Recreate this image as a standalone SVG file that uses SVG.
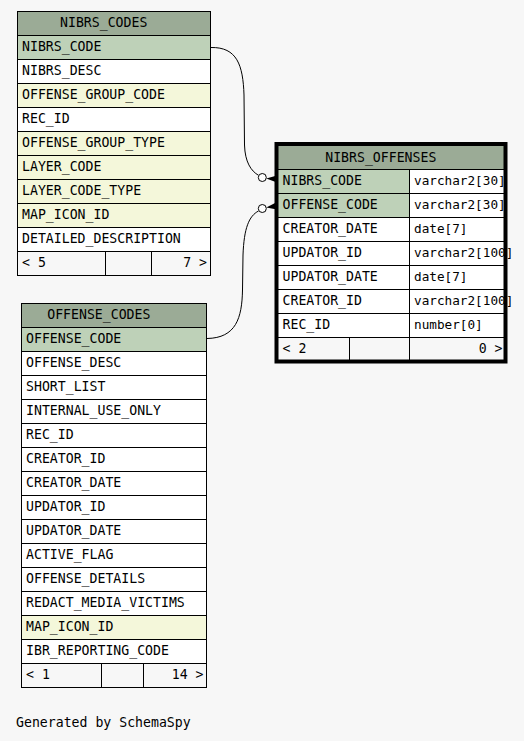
<svg xmlns="http://www.w3.org/2000/svg" width="524" height="741" viewBox="0 0 524 741">
<style>
text{font-family:"DejaVu Sans Mono","Liberation Mono",monospace;font-size:13.2px;fill:#000}
text.t{font-size:12.7px}
.c{stroke:#000;stroke-width:1}
.h{fill:#9bab96}
.k{fill:#bed1b8}
.w{fill:#ffffff}
.y{fill:#f4f7da}
.f{fill:#f7f7f7}
.m{text-anchor:middle}
.e{text-anchor:end}
.edge{fill:none;stroke:#000;stroke-width:1}
</style>
<rect x="0" y="0" width="524" height="741" fill="#f7f7f7"/>

<g id="connectors">
<path class="edge" d="M211,47.5 C237,47 243,65 244,95 L244.5,145 C245,162 251,171 258.5,175.3"/>
<circle cx="262.3" cy="177.5" r="4" fill="#fff" stroke="#000"/>
<polygon points="266.3,178.5 277,175.5 277,182.5" fill="#000"/>
<path class="edge" d="M207,338.5 C236,338 242,318 242.5,290 L243,255 C244,228 249,216 258.5,211"/>
<circle cx="262.3" cy="208.5" r="4" fill="#fff" stroke="#000"/>
<polygon points="266.3,207.5 277,202 277,209.5" fill="#000"/>
</g>

<g id="NIBRS_CODES">
<rect class="c h" x="17.5" y="11.5" width="193" height="24"/>
<text class="m" x="103.7" y="27">NIBRS_CODES</text>
<rect class="c k" x="17.5" y="35.5" width="193" height="24"/>
<text x="22" y="51">NIBRS_CODE</text>
<rect class="c w" x="17.5" y="59.5" width="193" height="24"/>
<text x="22" y="75">NIBRS_DESC</text>
<rect class="c y" x="17.5" y="83.5" width="193" height="24"/>
<text x="22" y="99">OFFENSE_GROUP_CODE</text>
<rect class="c w" x="17.5" y="107.5" width="193" height="24"/>
<text x="22" y="123">REC_ID</text>
<rect class="c y" x="17.5" y="131.5" width="193" height="24"/>
<text x="22" y="147">OFFENSE_GROUP_TYPE</text>
<rect class="c y" x="17.5" y="155.5" width="193" height="24"/>
<text x="22" y="171">LAYER_CODE</text>
<rect class="c y" x="17.5" y="179.5" width="193" height="24"/>
<text x="22" y="195">LAYER_CODE_TYPE</text>
<rect class="c y" x="17.5" y="203.5" width="193" height="24"/>
<text x="22" y="219">MAP_ICON_ID</text>
<rect class="c w" x="17.5" y="227.5" width="193" height="24"/>
<text x="22" y="243">DETAILED_DESCRIPTION</text>
<rect class="c f" x="17.5" y="251.5" width="88" height="24"/>
<rect class="c f" x="105.5" y="251.5" width="46" height="24"/>
<rect class="c f" x="151.5" y="251.5" width="59" height="24"/>
<text x="22" y="267">&lt; 5</text>
<text class="e" x="207" y="267">7 &gt;</text>
</g>

<g id="OFFENSE_CODES">
<rect class="c h" x="21.5" y="303.5" width="185" height="24"/>
<text class="m" x="98.8" y="319">OFFENSE_CODES</text>
<rect class="c k" x="21.5" y="327.5" width="185" height="24"/>
<text x="26" y="343">OFFENSE_CODE</text>
<rect class="c w" x="21.5" y="351.5" width="185" height="24"/>
<text x="26" y="367">OFFENSE_DESC</text>
<rect class="c w" x="21.5" y="375.5" width="185" height="24"/>
<text x="26" y="391">SHORT_LIST</text>
<rect class="c w" x="21.5" y="399.5" width="185" height="24"/>
<text x="26" y="415">INTERNAL_USE_ONLY</text>
<rect class="c w" x="21.5" y="423.5" width="185" height="24"/>
<text x="26" y="439">REC_ID</text>
<rect class="c w" x="21.5" y="447.5" width="185" height="24"/>
<text x="26" y="463">CREATOR_ID</text>
<rect class="c w" x="21.5" y="471.5" width="185" height="24"/>
<text x="26" y="487">CREATOR_DATE</text>
<rect class="c w" x="21.5" y="495.5" width="185" height="24"/>
<text x="26" y="511">UPDATOR_ID</text>
<rect class="c w" x="21.5" y="519.5" width="185" height="24"/>
<text x="26" y="535">UPDATOR_DATE</text>
<rect class="c w" x="21.5" y="543.5" width="185" height="24"/>
<text x="26" y="559">ACTIVE_FLAG</text>
<rect class="c w" x="21.5" y="567.5" width="185" height="24"/>
<text x="26" y="583">OFFENSE_DETAILS</text>
<rect class="c w" x="21.5" y="591.5" width="185" height="24"/>
<text x="26" y="607">REDACT_MEDIA_VICTIMS</text>
<rect class="c y" x="21.5" y="615.5" width="185" height="24"/>
<text x="26" y="631">MAP_ICON_ID</text>
<rect class="c w" x="21.5" y="639.5" width="185" height="24"/>
<text x="26" y="655">IBR_REPORTING_CODE</text>
<rect class="c f" x="21.5" y="663.5" width="80" height="24"/>
<rect class="c f" x="101.5" y="663.5" width="42" height="24"/>
<rect class="c f" x="143.5" y="663.5" width="63" height="24"/>
<text x="26" y="679">&lt; 1</text>
<text class="e" x="203.5" y="679">14 &gt;</text>
</g>

<g id="NIBRS_OFFENSES">
<rect class="c h" x="277.5" y="145.5" width="227" height="24"/>
<text class="m" x="380.8" y="161.5">NIBRS_OFFENSES</text>
<rect class="c k" x="277.5" y="169.5" width="132" height="24"/>
<rect class="c w" x="409.5" y="169.5" width="95" height="24"/>
<text x="282.5" y="185">NIBRS_CODE</text>
<text class="t" x="414" y="185">varchar2[30]</text>
<rect class="c k" x="277.5" y="193.5" width="132" height="24"/>
<rect class="c w" x="409.5" y="193.5" width="95" height="24"/>
<text x="282.5" y="209">OFFENSE_CODE</text>
<text class="t" x="414" y="209">varchar2[30]</text>
<rect class="c w" x="277.5" y="217.5" width="132" height="24"/>
<rect class="c w" x="409.5" y="217.5" width="95" height="24"/>
<text x="282.5" y="233">CREATOR_DATE</text>
<text class="t" x="414" y="233">date[7]</text>
<rect class="c w" x="277.5" y="241.5" width="132" height="24"/>
<rect class="c w" x="409.5" y="241.5" width="95" height="24"/>
<text x="282.5" y="257">UPDATOR_ID</text>
<text class="t" x="414" y="257">varchar2[100]</text>
<rect class="c w" x="277.5" y="265.5" width="132" height="24"/>
<rect class="c w" x="409.5" y="265.5" width="95" height="24"/>
<text x="282.5" y="281">UPDATOR_DATE</text>
<text class="t" x="414" y="281">date[7]</text>
<rect class="c w" x="277.5" y="289.5" width="132" height="24"/>
<rect class="c w" x="409.5" y="289.5" width="95" height="24"/>
<text x="282.5" y="305">CREATOR_ID</text>
<text class="t" x="414" y="305">varchar2[100]</text>
<rect class="c w" x="277.5" y="313.5" width="132" height="24"/>
<rect class="c w" x="409.5" y="313.5" width="95" height="24"/>
<text x="282.5" y="329">REC_ID</text>
<text class="t" x="414" y="329">number[0]</text>
<rect class="c f" x="277.5" y="337.5" width="72" height="24"/>
<rect class="c f" x="349.5" y="337.5" width="60" height="24"/>
<rect class="c f" x="409.5" y="337.5" width="95" height="24"/>
<text x="282.5" y="353">&lt; 2</text>
<text class="e" x="502.5" y="353">0 &gt;</text>
<rect x="276.5" y="144" width="229" height="217.5" fill="none" stroke="#000" stroke-width="4"/>
</g>

<text x="16" y="727">Generated by SchemaSpy</text>
</svg>
